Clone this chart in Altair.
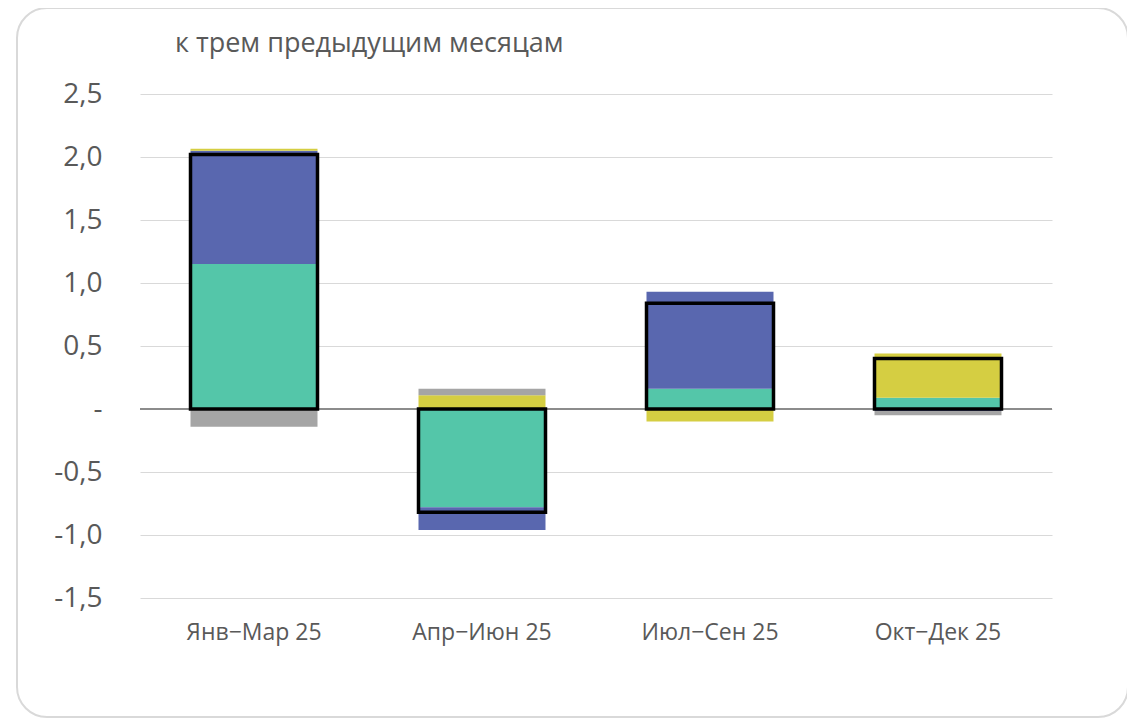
import altair as alt
import pandas as pd

periods = ["Янв−Мар 25", "Апр−Июн 25", "Июл−Сен 25", "Окт−Дек 25"]
series = ["Ряд 1", "Ряд 2", "Ряд 3", "Ряд 4"]
colors = ["#54C6A9", "#5967AF", "#D5CE42", "#A5A5A5"]
s1 = [1.15, -0.78, 0.16, 0.09]
s2 = [0.90, -0.18, 0.77, -0.015]
s3 = [0.015, 0.11, -0.10, 0.35]
s4 = [-0.14, 0.05, 0.0, -0.035]
totals = [2.02, -0.82, 0.84, 0.40]
y_ticks = [-1.5, -1.0, -0.5, 0.0, 0.5, 1.0, 1.5, 2.0, 2.5]
title_text = "к трем предыдущим месяцам"

rows = []
for i, p in enumerate(periods):
    for k, (name, vals) in enumerate(zip(series, [s1, s2, s3, s4])):
        rows.append({"period": p, "series": name, "order": k, "value": vals[i]})
df = pd.DataFrame(rows)
tot = pd.DataFrame({"period": periods, "total": totals})

W, H = 912, 504
FONT = "Open Sans"
TXT = "#595959"

x_enc = alt.X(
    "period:N", sort=periods, title=None,
    scale=alt.Scale(paddingInner=0.443, paddingOuter=0.2215),
    axis=alt.Axis(labelAngle=0, labelFontSize=23, labelColor=TXT, labelFont=FONT,
                  ticks=False, domain=False, labelPadding=23, grid=False),
)
y_scale = alt.Scale(domain=[-1.5, 2.5], nice=False, zero=False)

bars = alt.Chart(df).mark_bar().encode(
    x=x_enc,
    y=alt.Y("value:Q", stack="zero", scale=y_scale, title=None,
            axis=alt.Axis(values=y_ticks, labelFontSize=28, labelColor=TXT, labelFont=FONT,
                          ticks=False, domain=False, labelPadding=38,
                          gridColor="#D9D9D9", gridWidth=1,
                          labelExpr="datum.value == 0 ? '-\u00a0\u00a0' : (datum.value < 0 ? '-' : '') + replace(format(abs(datum.value), '.1f'), '.', ',')")),
    color=alt.Color("series:N", scale=alt.Scale(domain=series, range=colors), legend=None),
    order=alt.Order("order:Q"),
)

zero = alt.Chart(pd.DataFrame({"z": [0.0]})).mark_rule(color="#8C8C8C", strokeWidth=2).encode(
    y=alt.Y("z:Q", scale=y_scale)
)

outline = alt.Chart(tot).mark_bar(fillOpacity=0, stroke="black", strokeWidth=3.5).encode(
    x=alt.X("period:N", sort=periods),
    y=alt.Y("total:Q", scale=y_scale),
)

frame = alt.Chart(pd.DataFrame({"a": [0]})).mark_rect(
    fill=None, fillOpacity=0, stroke="#D9D9D9", strokeWidth=2, cornerRadius=30
).encode(
    x=alt.value(-123), x2=alt.value(988), y=alt.value(-86), y2=alt.value(623)
)

title = alt.Chart(pd.DataFrame({"t": [title_text]})).mark_text(
    align="left", baseline="middle", fontSize=27, font=FONT, color=TXT
).encode(
    x=alt.value(35), y=alt.value(-50), text="t:N"
)

chart = alt.layer(frame, bars, zero, outline, title).properties(
    width=W, height=H,
    autosize=alt.AutoSizeParams(type="none"),
    padding={"left": 132, "top": 86, "right": 75, "bottom": 120},
).configure_view(stroke=None)

chart.save("out.html", embed_options={"renderer": "svg", "actions": False})
